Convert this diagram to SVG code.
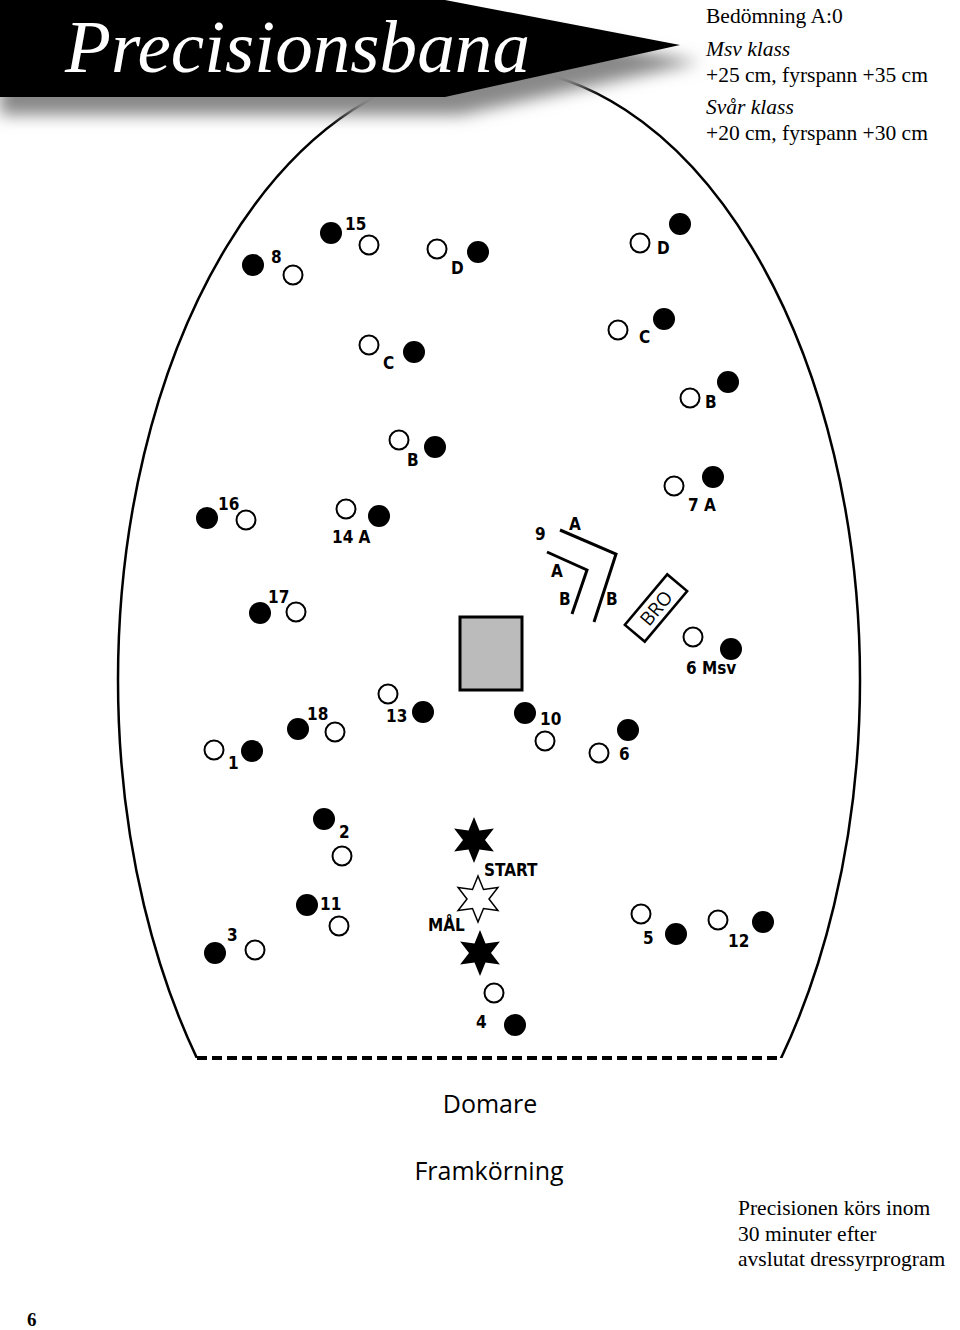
<svg xmlns="http://www.w3.org/2000/svg" width="960" height="1330" viewBox="0 0 960 1330">
<style>
.o{fill:#fff;stroke:#000;stroke-width:2}
.f{fill:#000}
.l{font-family:"DejaVu Sans Condensed","Liberation Sans",sans-serif;font-weight:bold;font-size:17px;fill:#000}
.s{font-family:"Liberation Serif",serif;font-size:21.5px;fill:#000}
.n{font-family:"Open Sans","Liberation Sans",sans-serif;font-size:25px;fill:#000;text-anchor:middle}
</style>
<defs>
<filter id="sh" x="-10%" y="-10%" width="130%" height="160%"><feGaussianBlur stdDeviation="8"/></filter>
<clipPath id="cl"><rect x="0" y="0" width="960" height="1058"/></clipPath>
<polygon id="star" points="0,-23 5.5,-9.5 19.9,-11.5 11,0 19.9,11.5 5.5,9.5 0,23 -5.5,9.5 -19.9,11.5 -11,0 -19.9,-11.5 -5.5,-9.5"/>
</defs>
<rect width="960" height="1330" fill="#fff"/>
<ellipse cx="489" cy="680" rx="371" ry="613" fill="none" stroke="#000" stroke-width="2.5" clip-path="url(#cl)"/>
<g id="banner">
<polygon points="0,18 460,18 700,62 460,115 0,115" fill="#888" filter="url(#sh)"/>
<polygon points="0,0 445,0 680,45 445,97 0,97" fill="#000"/>
<text x="65" y="72" font-family="Liberation Serif,serif" font-style="italic" font-size="74" fill="#fff" textLength="465" lengthAdjust="spacingAndGlyphs">Precisionsbana</text>
</g>
<g id="info" class="s">
<text x="706" y="23">Bedömning A:0</text>
<text x="706" y="56" font-style="italic">Msv klass</text>
<text x="706" y="82">+25 cm, fyrspann +35 cm</text>
<text x="706" y="114" font-style="italic">Svår klass</text>
<text x="706" y="140">+20 cm, fyrspann +30 cm</text>
</g>
<g id="cones">
<circle class="f" cx="253" cy="265" r="11"/><circle class="o" cx="293" cy="275" r="9.5"/>
<circle class="f" cx="331" cy="233" r="11"/><circle class="o" cx="369" cy="245" r="9.5"/>
<circle class="o" cx="437" cy="249" r="9.5"/><circle class="f" cx="478" cy="252" r="11"/>
<circle class="o" cx="640" cy="243" r="9.5"/><circle class="f" cx="680" cy="224" r="11"/>
<circle class="o" cx="369" cy="345" r="9.5"/><circle class="f" cx="414" cy="352" r="11"/>
<circle class="o" cx="618" cy="330" r="9.5"/><circle class="f" cx="664" cy="319" r="11"/>
<circle class="o" cx="690" cy="398" r="9.5"/><circle class="f" cx="728" cy="382" r="11"/>
<circle class="o" cx="399" cy="440" r="9.5"/><circle class="f" cx="435" cy="447" r="11"/>
<circle class="f" cx="207" cy="518" r="11"/><circle class="o" cx="246" cy="520" r="9.5"/>
<circle class="o" cx="346" cy="509" r="9.5"/><circle class="f" cx="379" cy="516" r="11"/>
<circle class="o" cx="674" cy="486" r="9.5"/><circle class="f" cx="713" cy="477" r="11"/>
<circle class="f" cx="260" cy="613" r="11"/><circle class="o" cx="296" cy="612" r="9.5"/>
<circle class="o" cx="693" cy="637" r="9.5"/><circle class="f" cx="731" cy="649" r="11"/>
<circle class="o" cx="388" cy="694" r="9.5"/><circle class="f" cx="423" cy="712" r="11"/>
<circle class="f" cx="298" cy="729" r="11"/><circle class="o" cx="335" cy="732" r="9.5"/>
<circle class="o" cx="214" cy="750" r="9.5"/><circle class="f" cx="252" cy="751" r="11"/>
<circle class="f" cx="525" cy="713" r="11"/><circle class="o" cx="545" cy="741" r="9.5"/>
<circle class="o" cx="599" cy="753" r="9.5"/><circle class="f" cx="628" cy="730" r="11"/>
<circle class="f" cx="324" cy="819" r="11"/><circle class="o" cx="342" cy="856" r="9.5"/>
<circle class="f" cx="307" cy="905" r="11"/><circle class="o" cx="339" cy="926" r="9.5"/>
<circle class="f" cx="215" cy="953" r="11"/><circle class="o" cx="255" cy="950" r="9.5"/>
<circle class="o" cx="641" cy="914" r="9.5"/><circle class="f" cx="676" cy="934" r="11"/>
<circle class="o" cx="718" cy="920" r="9.5"/><circle class="f" cx="763" cy="922" r="11"/>
<circle class="o" cx="494" cy="993" r="9.5"/><circle class="f" cx="515" cy="1025" r="11"/>
</g>
<g id="labels" class="l">
<text x="271" y="263">8</text><text x="345" y="230">15</text>
<text x="451" y="274">D</text><text x="657" y="254">D</text>
<text x="383" y="369">C</text><text x="639" y="343">C</text>
<text x="705" y="408">B</text><text x="407" y="466">B</text>
<text x="218" y="510">16</text><text x="332" y="543">14 A</text>
<text x="535" y="540">9</text><text x="569" y="530">A</text>
<text x="688" y="511">7 A</text>
<text x="268" y="603">17</text>
<text x="551" y="577">A</text><text x="559" y="605">B</text><text x="606" y="605">B</text>
<text x="686" y="674">6 Msv</text>
<text x="386" y="722">13</text><text x="307" y="720">18</text>
<text x="228" y="769">1</text><text x="540" y="725">10</text><text x="619" y="760">6</text>
<text x="339" y="838">2</text><text x="320" y="910">11</text><text x="227" y="941">3</text>
<text x="643" y="944">5</text><text x="728" y="947">12</text><text x="476" y="1028">4</text>
<text x="484" y="876">START</text><text x="428" y="931">MÅL</text>
</g>
<g id="obstacles">
<polyline points="560,530 616,554 594,622" fill="none" stroke="#000" stroke-width="3"/>
<polyline points="547,552 587,570 572,614" fill="none" stroke="#000" stroke-width="3"/>
<rect x="460" y="617" width="62" height="73" fill="#bbb" stroke="#000" stroke-width="3"/>
<g transform="translate(656,608) rotate(-50)">
<rect x="-33" y="-13" width="66" height="26" fill="#fff" stroke="#000" stroke-width="2.5"/>
<text x="0" y="7" text-anchor="middle" font-family="Open Sans,Liberation Sans,sans-serif" font-size="19">BRO</text>
</g>
<use href="#star" x="474" y="840" fill="#000"/>
<use href="#star" x="478" y="899" fill="#fff" stroke="#000" stroke-width="1.5"/>
<use href="#star" x="480" y="953" fill="#000"/>
</g>
<line x1="197" y1="1058" x2="782" y2="1058" stroke="#000" stroke-width="4" stroke-dasharray="10,5"/>
<text class="n" x="490" y="1113">Domare</text>
<text class="n" x="489" y="1180">Framkörning</text>
<g class="s">
<text x="738" y="1215">Precisionen körs inom</text>
<text x="738" y="1241">30 minuter efter</text>
<text x="738" y="1266">avslutat dressyrprogram</text>
</g>
<text x="27" y="1326" font-family="Liberation Serif,serif" font-weight="bold" font-size="19">6</text>
</svg>
